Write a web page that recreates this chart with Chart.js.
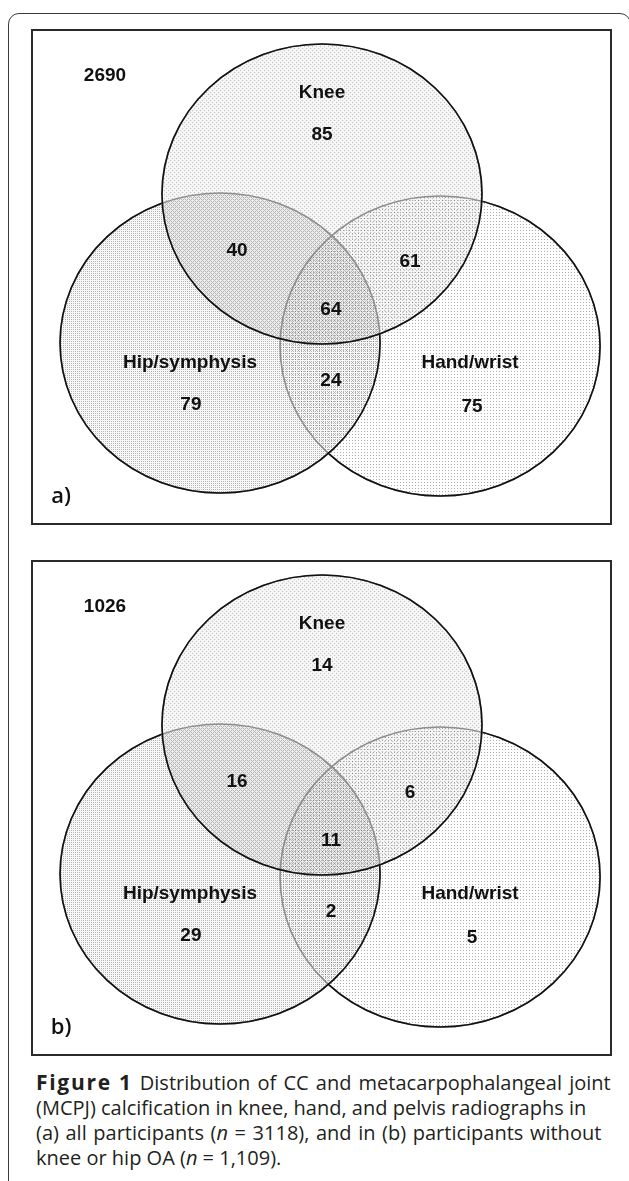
<!DOCTYPE html>
<html>
<head>
<meta charset="utf-8">
<script src="https://cdn.jsdelivr.net/npm/chart.js@4.4.1/dist/chart.umd.min.js"></script>
<style>
html, body { margin: 0; padding: 0; background: #fff; width: 629px; height: 1181px; overflow: hidden; }
.frame { position: absolute; left: 8px; top: 13px; width: 623px; height: 1180px; box-sizing: border-box;
         border: 1.3px solid #3a3a3a; border-radius: 11px; }
.panel { position: absolute; left: 31px; width: 581px; height: 496px; box-sizing: border-box; border: 2px solid #2a2a2a; }
.panel canvas { display: block; }
#pa { top: 29px; }
#pb { top: 560px; }
.cap { position: absolute; left: 36px; top: 1070px; width: 620px; font-family: "Open Sans", sans-serif;
       font-size: 20px; letter-spacing: 0; font-weight: 500; line-height: 25px; color: #231f20; white-space: nowrap; }
.cap b { font-weight: 700; font-size: 21px; letter-spacing: 1.7px; }
.cap .w1 { word-spacing: 2px; }
.cap .w3 { word-spacing: 1.4px; }
</style>
</head>
<body>
<div class="frame"></div>
<div class="panel" id="pa"><canvas id="ca" width="577" height="492"></canvas></div>
<div class="panel" id="pb"><canvas id="cb" width="577" height="492"></canvas></div>
<div class="cap"><b>Figure 1</b><span class="w1"> Distribution of CC and metacarpophalangeal joint</span><br>(MCPJ) calcification in knee, hand, and pelvis radiographs in<br><span class="w3">(a) all participants (<i>n</i> = 3118), and in (b) participants without</span><br>knee or hip OA (<i>n</i> = 1,109).</div>
<script>
// sets and region counts
const setNames = ['Knee', 'Hip/symphysis', 'Hand/wrist'];
// regions: knee only, hip only, hand only, knee+hip, knee+hand, hip+hand, all three
const regionNames = ['K', 'H', 'W', 'KH', 'KW', 'HW', 'KHW'];
const countsA = [85, 79, 75, 40, 61, 24, 64];
const countsB = [14, 29, 5, 16, 6, 2, 11];
const noneA = 2690;
const noneB = 1026;
const panelTags = ['a)', 'b)'];

// layout in venn units (1 = circle radius)
const centres = [[0, 0], [-0.637, -0.993], [0.738, -1.013]];
const regionPos = [[0, 0.393], [-0.819, -1.406], [0.938, -1.42], [-0.531, -0.38], [0.55, -0.453], [0.056, -1.246], [0.056, -0.773]];
const namePos = [[0, 0.673], [-0.825, -1.126], [0.925, -1.126]];
const nonePos = [-1.356, 0.787];
const tagPos = [-1.63, -2.02];

function dotTile(size, dots) {
    let c = document.createElement('canvas');
    c.width = size; c.height = size;
    let g = c.getContext('2d');
    dots.forEach(d => { g.fillStyle = d[2]; g.fillRect(d[0], d[1], 1, 1); });
    return c;
}
const tiles = [
    dotTile(4, [[1,1,'rgba(0,0,0,0.22)'],[0,1,'rgba(0,0,0,0.07)'],[2,1,'rgba(0,0,0,0.07)'],[1,0,'rgba(0,0,0,0.07)'],[1,2,'rgba(0,0,0,0.07)'],
                [3,3,'rgba(0,0,0,0.22)'],[2,3,'rgba(0,0,0,0.07)'],[0,3,'rgba(0,0,0,0.07)'],[3,2,'rgba(0,0,0,0.07)'],[3,0,'rgba(0,0,0,0.07)']]),
    dotTile(2, [[0,0,'rgba(0,0,0,0.3)'],[1,1,'rgba(0,0,0,0.06)']]),
    dotTile(3, [[1,1,'rgba(0,0,0,0.32)']])
];
// drawing order bottom -> top
const zOrder = [2, 1, 0];

function ellipseOf(chart, i) {
    let xs = chart.scales.x, ys = chart.scales.y;
    let el = chart.getDatasetMeta(0).data[i];
    let d = chart.data.datasets[0].data[i];
    return { x: el.x, y: el.y, rx: Math.abs(xs.getPixelForValue(d.x + d.r) - el.x), ry: Math.abs(ys.getPixelForValue(d.y - d.r) - el.y) };
}

const vennPlugin = {
    id: 'venn',
    beforeDatasetsDraw(chart) {
        let ctx = chart.ctx;
        let e = [0, 1, 2].map(i => ellipseOf(chart, i));
        ctx.save();
        zOrder.forEach(i => {
            ctx.beginPath();
            ctx.ellipse(e[i].x, e[i].y, e[i].rx, e[i].ry, 0, 0, Math.PI * 2);
            ctx.fillStyle = ctx.createPattern(tiles[i], 'repeat');
            ctx.fill();
        });
        ctx.lineWidth = 1.6;
        zOrder.forEach((i, k) => {
            let above = zOrder.slice(k + 1);
            ctx.beginPath();
            ctx.ellipse(e[i].x, e[i].y, e[i].rx, e[i].ry, 0, 0, Math.PI * 2);
            ctx.strokeStyle = '#8c8c8c';
            ctx.stroke();
            ctx.save();
            above.forEach(j => {
                ctx.beginPath();
                ctx.rect(0, 0, chart.width, chart.height);
                ctx.ellipse(e[j].x, e[j].y, e[j].rx, e[j].ry, 0, 0, Math.PI * 2);
                ctx.clip('evenodd');
            });
            ctx.beginPath();
            ctx.ellipse(e[i].x, e[i].y, e[i].rx, e[i].ry, 0, 0, Math.PI * 2);
            ctx.strokeStyle = '#111';
            ctx.stroke();
            ctx.restore();
        });
        ctx.restore();
    },
    afterDatasetsDraw(chart) {
        let ctx = chart.ctx;
        ctx.save();
        ctx.textAlign = 'center';
        ctx.textBaseline = 'middle';
        ctx.fillStyle = '#111';
        [1, 2, 3].forEach(k => {
            let ds = chart.data.datasets[k];
            ctx.font = ds.font;
            chart.getDatasetMeta(k).data.forEach((el, i) => ctx.fillText(ds.data[i].txt, el.x, el.y));
        });
        ctx.restore();
    }
};

function drawVenn(id, counts, none, tag) {
    let circles = centres.map((c, i) => ({ x: c[0], y: c[1], r: 1, set: setNames[i] }));
    let nums = regionPos.map((p, i) => ({ x: p[0], y: p[1], txt: String(counts[i]) }));
    nums.push({ x: nonePos[0], y: nonePos[1], txt: String(none) });
    let names = namePos.map((p, i) => ({ x: p[0], y: p[1], txt: setNames[i] }));
    new Chart(document.getElementById(id), {
        type: 'scatter',
        data: { datasets: [
            { label: 'sets', data: circles, pointRadius: 0 },
            { label: 'counts', data: nums, pointRadius: 0, font: 'bold 19px "Liberation Sans", Arial, sans-serif' },
            { label: 'names', data: names, pointRadius: 0, font: 'bold 19px "Liberation Sans", Arial, sans-serif' },
            { label: 'tag', data: [{ x: tagPos[0], y: tagPos[1], txt: tag }], pointRadius: 0, font: '600 22px "Open Sans", sans-serif' }
        ] },
        options: {
            responsive: false,
            animation: false,
            layout: { padding: 0 },
            events: [],
            plugins: { legend: { display: false }, tooltip: { enabled: false } },
            scales: {
                x: { type: 'linear', display: false, min: -1.806, max: 1.8 },
                y: { type: 'linear', display: false, min: -2.193, max: 1.087 }
            }
        },
        plugins: [vennPlugin]
    });
}

drawVenn('ca', countsA, noneA, panelTags[0]);
drawVenn('cb', countsB, noneB, panelTags[1]);
</script>
</body>
</html>
